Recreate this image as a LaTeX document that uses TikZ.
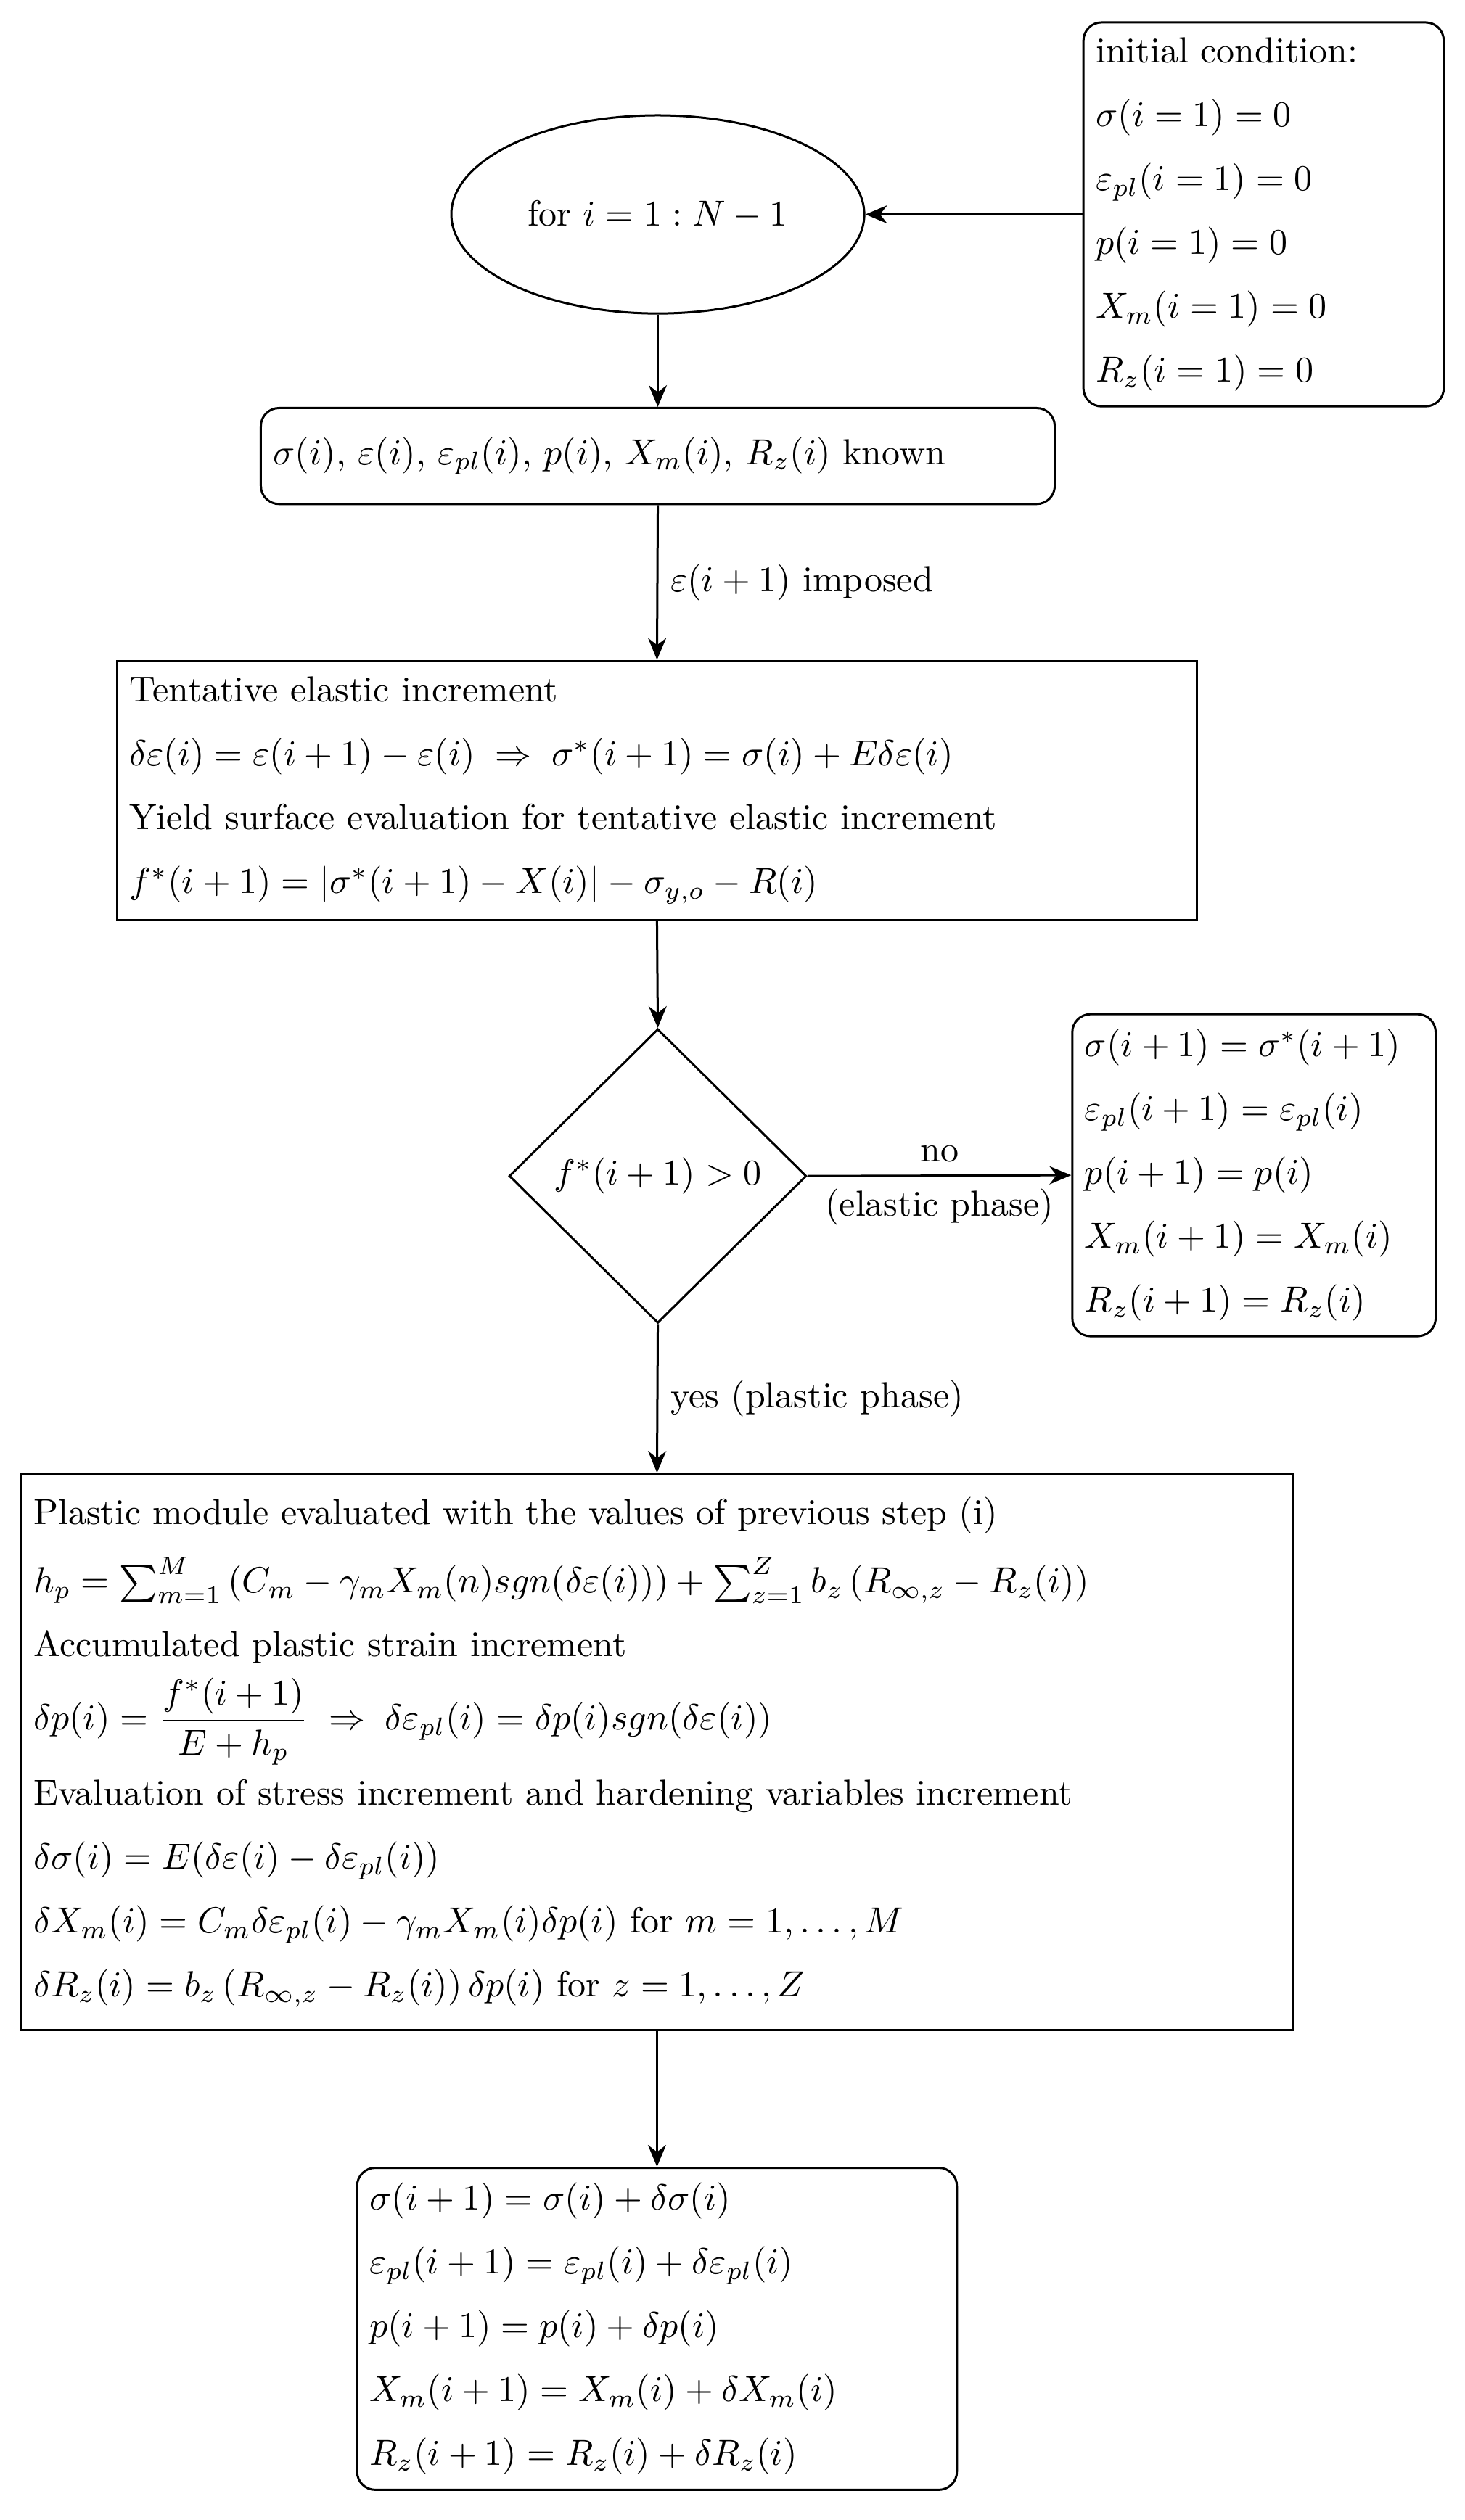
\documentclass[tikz,border=0pt]{standalone}
\usepackage{amsmath}
\usetikzlibrary{shapes.geometric,arrows.meta}
\begin{document}
\begin{tikzpicture}[x=0.0155cm,y=-0.0155cm,
  box/.style={draw,line width=0.6pt,align=left,inner sep=0.12cm},
  rbox/.style={box,rounded corners=5pt},
  arr/.style={-{Stealth[length=6pt,width=5pt]},line width=0.6pt},
  lab/.style={font=\normalsize}]
\useasboundingbox (0,0) rectangle (915,1575);
\node[rbox,minimum width=3.49cm,minimum height=3.72cm,text width=3.25cm] (init) at (789.5,134)
 {initial condition:\\[5.6pt] $\sigma(i=1)=0$\\[5.6pt] $\varepsilon_{pl}(i=1)=0$\\[5.6pt] $p(i=1)=0$\\[5.6pt] $X_m(i=1)=0$\\[5.6pt] $R_z(i=1)=0$};
\node[draw,ellipse,line width=0.6pt,minimum width=4.0cm,minimum height=1.92cm] (loop) at (411,134) {for $i=1:N-1$};
\node[rbox,minimum width=7.69cm,minimum height=0.93cm,text width=7.45cm] (known) at (411,285)
 {$\sigma(i)$, $\varepsilon(i)$, $\varepsilon_{pl}(i)$, $p(i)$, $X_m(i)$, $R_z(i)$ known};
\node[box,minimum width=10.46cm,minimum height=2.51cm,text width=10.22cm] (tent) at (410.5,494)
 {Tentative elastic increment\\[5.6pt]
  $\delta\varepsilon(i)=\varepsilon(i+1)-\varepsilon(i)\;\Rightarrow\;\sigma^*(i+1)=\sigma(i)+E\delta\varepsilon(i)$\\[5.6pt]
  Yield surface evaluation for tentative elastic increment\\[5.6pt]
  $f^*(i+1)=|\sigma^*(i+1)-X(i)|-\sigma_{y,o}-R(i)$};
\node[draw,diamond,line width=0.6pt,inner sep=0pt,minimum width=2.88cm,minimum height=2.85cm] (dec) at (411,735) {$f^*(i+1)>0$};
\node[rbox,minimum width=3.52cm,minimum height=3.12cm,text width=3.28cm] (elas) at (783.5,734.5)
 {$\sigma(i+1)=\sigma^*(i+1)$\\[5.6pt] $\varepsilon_{pl}(i+1)=\varepsilon_{pl}(i)$\\[5.6pt] $p(i+1)=p(i)$\\[5.6pt] $X_m(i+1)=X_m(i)$\\[5.6pt] $R_z(i+1)=R_z(i)$};
\node[box,minimum width=12.32cm,minimum height=5.39cm,text width=12.08cm] (plas) at (410.5,1095)
 {Plastic module evaluated with the values of previous step (i)\\[5.6pt]
  $h_p=\sum_{m=1}^{M}\left(C_m-\gamma_m X_m(n) sgn(\delta\varepsilon(i))\right)+\sum_{z=1}^{Z} b_z\left(R_{\infty,z}-R_z(i)\right)$\\[5.6pt]
  Accumulated plastic strain increment\\[3pt]
  $\delta p(i)=\dfrac{f^*(i+1)}{E+h_p}\;\Rightarrow\;\delta\varepsilon_{pl}(i)=\delta p(i) sgn(\delta\varepsilon(i))$\\[3pt]
  Evaluation of stress increment and hardening variables increment\\[5.6pt]
  $\delta\sigma(i)=E(\delta\varepsilon(i)-\delta\varepsilon_{pl}(i))$\\[5.6pt]
  $\delta X_m(i)=C_m\delta\varepsilon_{pl}(i)-\gamma_m X_m(i)\delta p(i)$ for $m=1,\ldots,M$\\[5.6pt]
  $\delta R_z(i)=b_z\left(R_{\infty,z}-R_z(i)\right)\delta p(i)$ for $z=1,\ldots,Z$};
\node[rbox,minimum width=5.81cm,minimum height=3.12cm,text width=5.57cm] (fin) at (410.5,1455.5)
 {$\sigma(i+1)=\sigma(i)+\delta\sigma(i)$\\[5.6pt] $\varepsilon_{pl}(i+1)=\varepsilon_{pl}(i)+\delta\varepsilon_{pl}(i)$\\[5.6pt] $p(i+1)=p(i)+\delta p(i)$\\[5.6pt] $X_m(i+1)=X_m(i)+\delta X_m(i)$\\[5.6pt] $R_z(i+1)=R_z(i)+\delta R_z(i)$};
\draw[arr] (init.west) -- (loop.east);
\draw[arr] (loop.south) -- (known.north);
\draw[arr] (known.south) -- node[right,lab]{$\varepsilon(i+1)$ imposed} (tent.north);
\draw[arr] (tent.south) -- (dec.north);
\draw[arr] (dec.east) -- node[above,lab]{no} node[below,lab]{(elastic phase)} (elas.west);
\draw[arr] (dec.south) -- node[right,lab]{yes (plastic phase)} (plas.north);
\draw[arr] (plas.south) -- (fin.north);
\end{tikzpicture}
\end{document}
